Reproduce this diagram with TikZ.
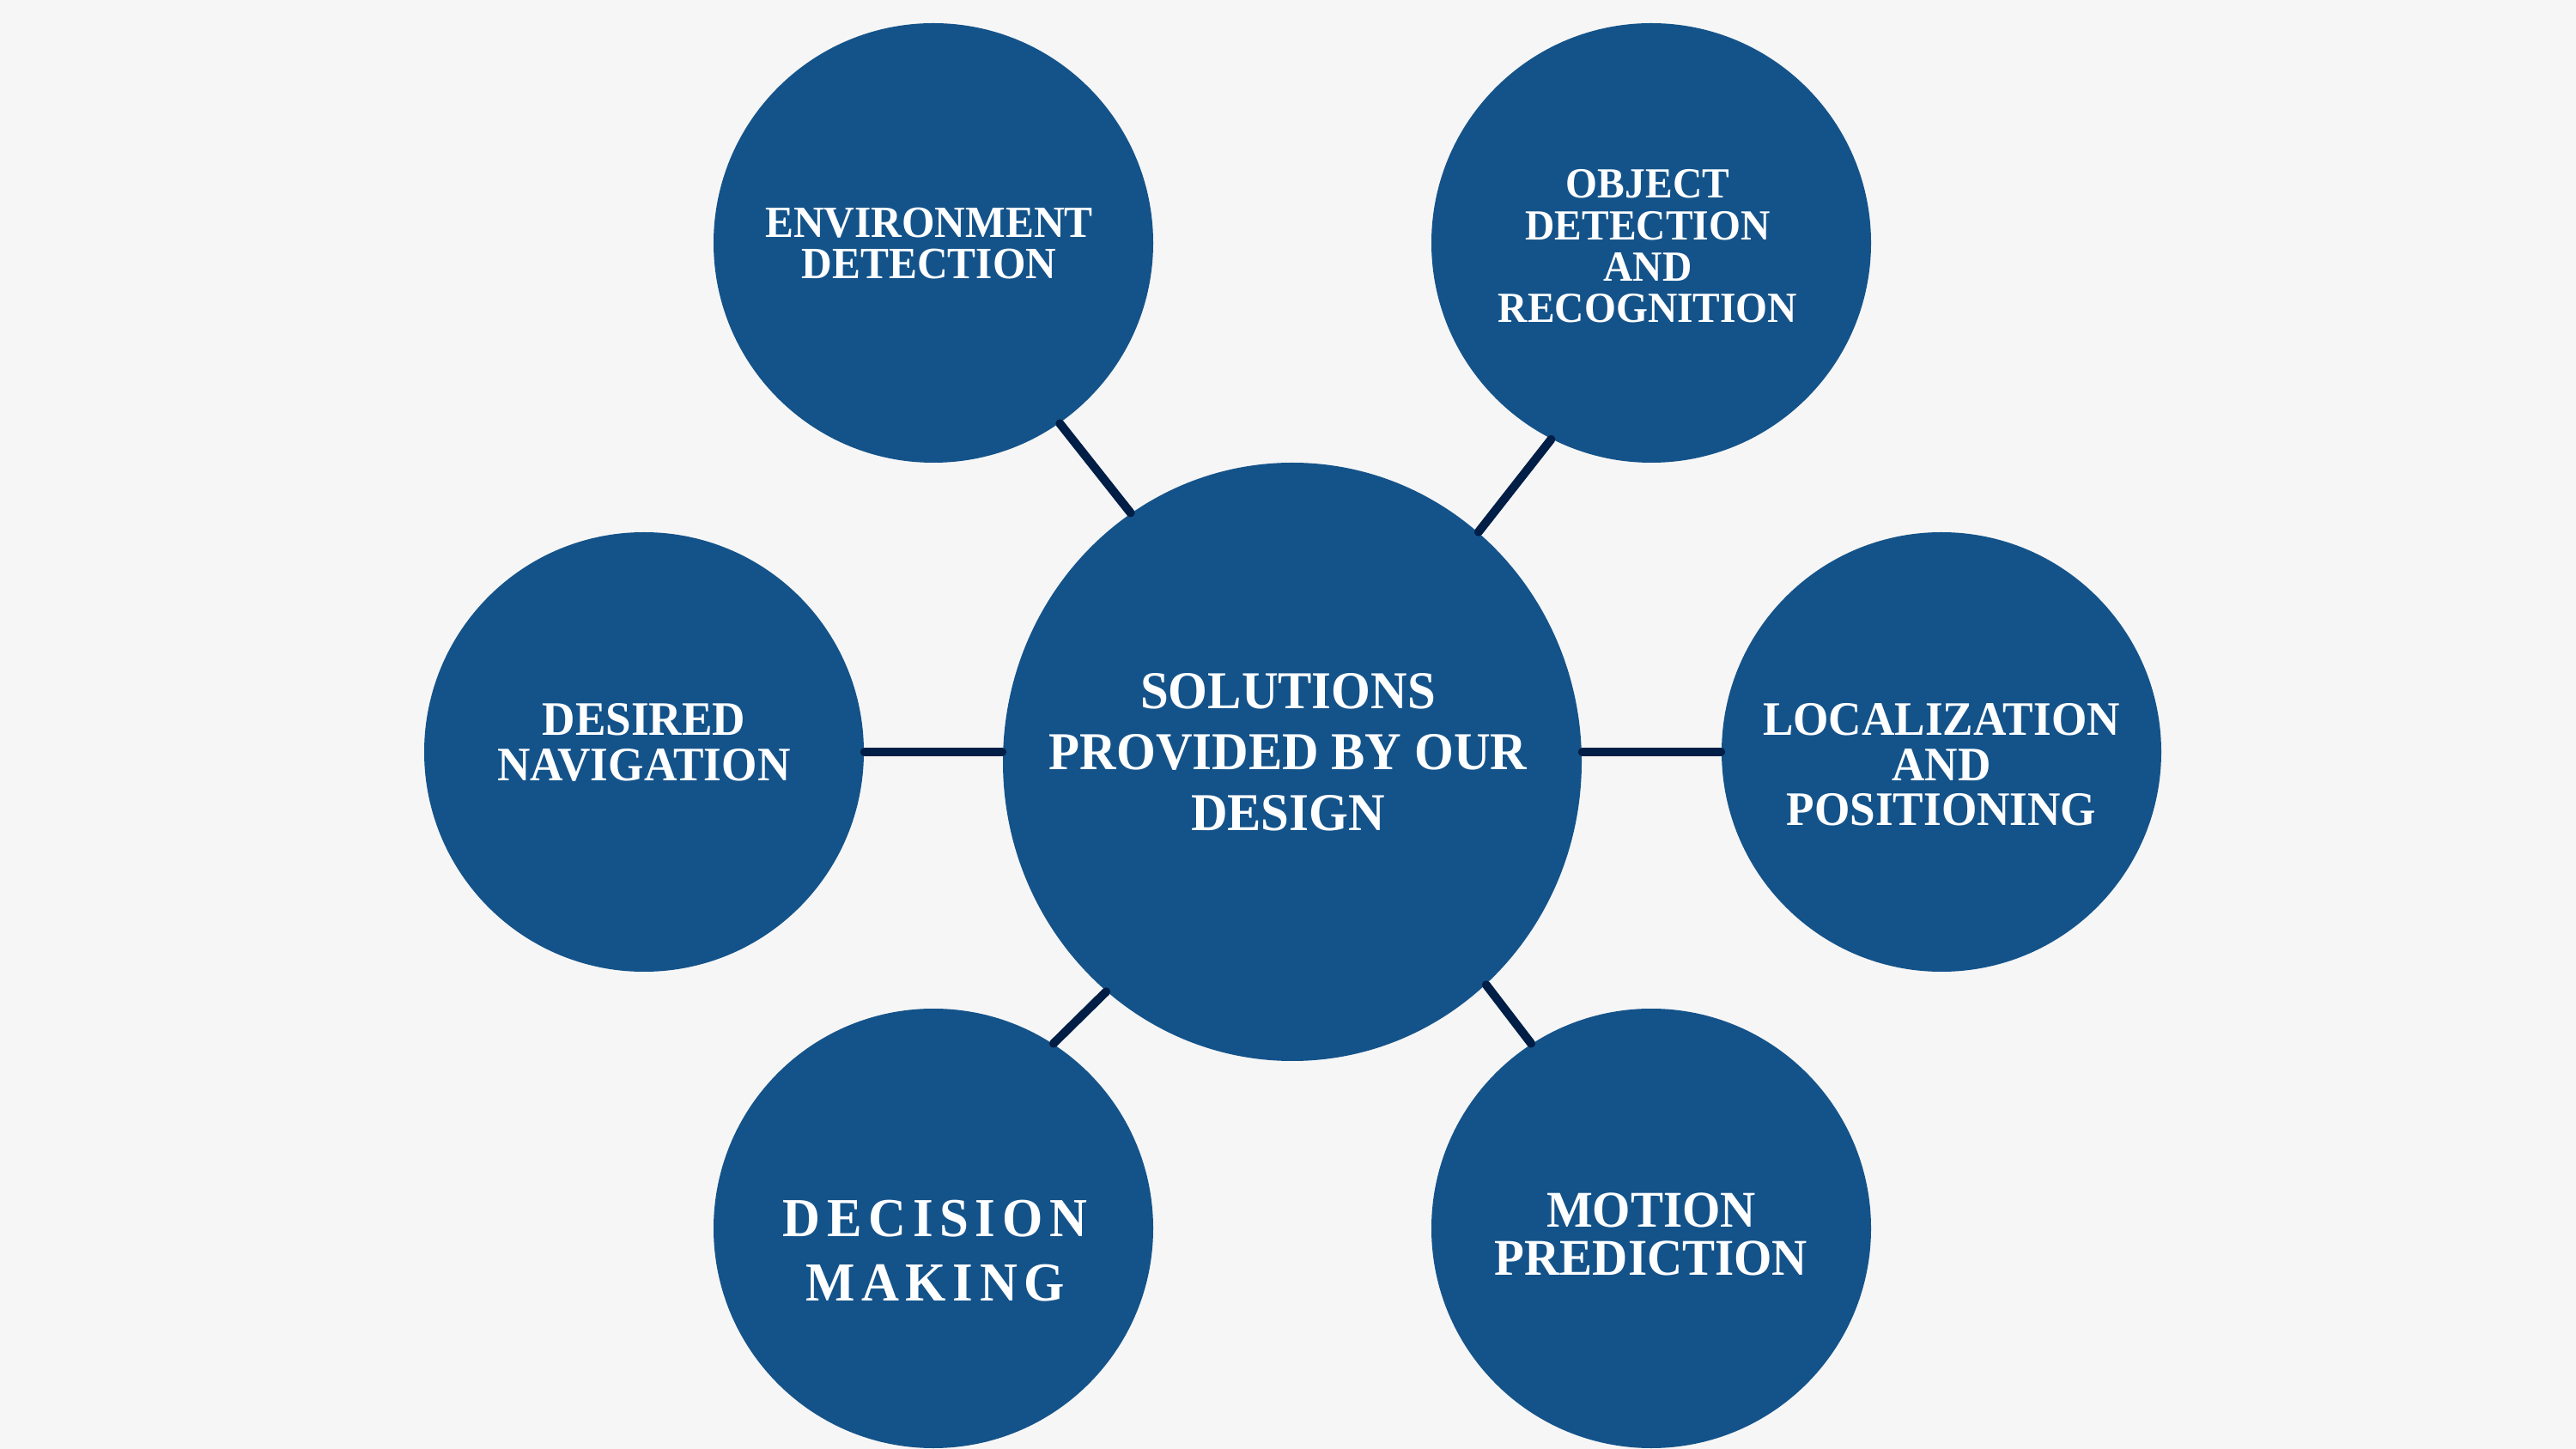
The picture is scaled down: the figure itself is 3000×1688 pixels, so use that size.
\documentclass[tikz,border=0pt]{standalone}
\usepackage{fontspec}
\setmainfont{Liberation Serif}[FakeStretch=0.95]
\newfontfamily\decfont{Liberation Serif}[FakeStretch=0.95,LetterSpace=12]
\usetikzlibrary{shapes.geometric}
\definecolor{bgcol}{HTML}{F6F6F6}
\definecolor{blobcol}{HTML}{14538A}
\definecolor{linkcol}{HTML}{001E46}
\begin{document}
\begin{tikzpicture}[x=0.25pt,y=-0.25pt,
  bubble/.style={circle,fill=blobcol,minimum size=128pt,inner sep=0pt},
  hub/.style={ellipse,fill=blobcol,minimum width=168.5pt,minimum height=174.25pt,inner sep=0pt},
  txt/.style={text=white,align=center,inner sep=0pt},
  conn/.style={draw=linkcol,line width=2.5pt,line cap=round}]
\fill[bgcol] (0,0) rectangle (3000,1688);
\useasboundingbox (0,0) rectangle (3000,1688);
\node[hub] (hub) at (1505,887.5) {};
\node[bubble] (env) at (1087,283) {};
\node[bubble] (obj) at (1923,283) {};
\node[bubble] (nav) at (750,876) {};
\node[bubble] (loc) at (2261,876) {};
\node[bubble] (dec) at (1087,1431) {};
\node[bubble] (mot) at (1923,1431) {};
\draw[conn] (env.-55.4) -- (hub.123.8);
\draw[conn] (obj.243.8) -- (hub.51.3);
\draw[conn] (nav.east) -- (nav.east -| hub.west);
\draw[conn] (loc.west) -- (loc.west -| hub.east);
\draw[conn] (dec.57.8) -- (hub.231.5);
\draw[conn] (mot.123.8) -- (hub.-49.7);
\node[txt,font=\bfseries\fontsize{15.5pt}{17.75pt}\selectfont] (hubt) at (1500,876) {SOLUTIONS\\PROVIDED BY OUR\\DESIGN};
\node[txt,font=\bfseries\fontsize{13pt}{12pt}\selectfont] (envt) at (1082,284) {ENVIRONMENT\\DETECTION};
\node[txt,font=\bfseries\fontsize{12.5pt}{12.1pt}\selectfont] (objt) at (1919,287) {OBJECT\\DETECTION\\AND\\RECOGNITION};
\node[txt,font=\bfseries\fontsize{14pt}{13.4pt}\selectfont] (navt) at (750,865) {DESIRED\\NAVIGATION};
\node[txt,font=\bfseries\fontsize{14pt}{13.1pt}\selectfont] (loct) at (2261,891) {LOCALIZATION\\AND\\POSITIONING};
\node[txt,font=\decfont\bfseries\fontsize{16pt}{18.6pt}\selectfont] (dect) at (1089,1457) {DECISION\\MAKING};
\node[txt,font=\bfseries\fontsize{15pt}{13.9pt}\selectfont] (mott) at (1923,1438) {MOTION\\PREDICTION};
\end{tikzpicture}
\end{document}
